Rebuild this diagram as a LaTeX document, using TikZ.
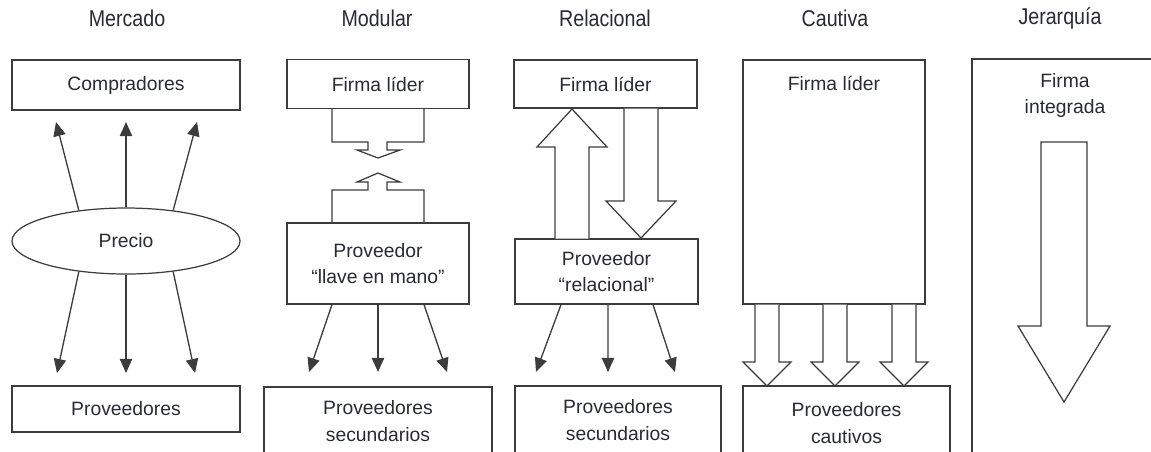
\documentclass[tikz,border=0pt]{standalone}
\usepackage{fontspec}
\setmainfont{Liberation Sans}
\newfontfamily\titlefont{Liberation Sans}[FakeStretch=0.86]
\usepackage{xcolor}
\usetikzlibrary{arrows.meta,shapes.geometric,calc}
\definecolor{LineGray}{RGB}{60,60,60}
\definecolor{TextGray}{RGB}{40,42,52}

\tikzset{
  caja/.style 2 args={draw=LineGray, line width=0.7pt, inner sep=0pt, align=center,
    minimum width=#1*0.02cm, minimum height=#2*0.02cm},
  flecha/.style={draw=LineGray, line width=0.75pt, -{Triangle[length=8pt,width=7pt]}},
  bloque/.style={draw=LineGray, line width=0.7pt, fill=white, line join=miter},
  titulo/.style={font=\titlefont\fontsize{13}{15}\selectfont}
}

\begin{document}
\begin{tikzpicture}[x=0.02cm, y=-0.02cm, font=\fontsize{11}{15}\selectfont, text=TextGray]
  \useasboundingbox (0,0) rectangle (1151,451);
  \clip (0,0) rectangle (1151,451);

  % Titulos
  \foreach \x/\t/\n in {127/Mercado/tmer, 377/Modular/tmod, 605/Relacional/trel, 835/Cautiva/tcau, 1060/Jerarquía/tjer}
    \node[titulo] (\n) at (\x,18) {\t};

  % Mercado
  \node[caja={228}{50}] (comp) at (126,85) {Compradores};
  \node[draw=LineGray, line width=0.7pt, ellipse, inner sep=0pt,
        minimum width=228*0.02cm, minimum height=66*0.02cm] (precio) at (126,241) {Precio};
  \node[caja={228}{46}] (prov) at (126,409) {Proveedores};
  \coordinate (up1) at (56,122);
  \coordinate (up2) at (126,122);
  \coordinate (up3) at (197,122);
  \coordinate (dn1) at (57,373);
  \coordinate (dn2) at (126,373);
  \coordinate (dn3) at (195,373);
  \draw[flecha] (precio.147) -- (up1);
  \draw[flecha] (precio.north) -- (up2);
  \draw[flecha] (precio.33) -- (up3);
  \draw[flecha] (precio.213) -- (dn1);
  \draw[flecha] (precio.south) -- (dn2);
  \draw[flecha] (precio.-33) -- (dn3);

  % Modular
  \node[caja={182}{49}] (lider2) at (378,84) {Firma líder};
  \draw[bloque] (332,109) -- (332,142) -- (368,142) -- (368,150) -- (357,150) -- (378,158)
    -- (400,150) -- (387,150) -- (387,142) -- (424,142) -- (424,109);
  \draw[bloque] (332,223) -- (332,190) -- (368,190) -- (368,182) -- (357,182) -- (378,173)
    -- (400,182) -- (387,182) -- (387,190) -- (424,190) -- (424,223);
  \node[caja={182}{81}] (llave) at (378,263.5) {Proveedor\\“llave en mano”};
  \node[caja={228}{68}] (sec2) at (378,421) {Proveedores\\secundarios};
  \coordinate (m1) at (309,372);
  \coordinate (m2) at (378,372);
  \coordinate (m3) at (447,372);
  \draw[flecha] ($(llave.south)+(-46,0)$) -- (m1);
  \draw[flecha] (llave.south) -- (m2);
  \draw[flecha] ($(llave.south)+(46,0)$) -- (m3);

  % Relacional
  \node[caja={183}{48}] (lider3) at (605.5,84) {Firma líder};
  \node[caja={183}{65}] (rel) at (606.5,271.5) {Proveedor\\“relacional”};
  \draw[bloque] (555,238.5) -- (555,147) -- (537,147) -- (572,109) -- (607,147)
    -- (589,147) -- (589,238.5);
  \draw[bloque] (624,108.5) -- (624,201) -- (606,201) -- (641,238) -- (676,201)
    -- (658,201) -- (658,108.5);
  \node[caja={206}{68}] (sec3) at (618,420) {Proveedores\\secundarios};
  \coordinate (r1) at (536,372);
  \coordinate (r2) at (608,372);
  \coordinate (r3) at (675,372);
  \draw[flecha] ($(rel.south)+(-45.5,0)$) -- (r1);
  \draw[flecha] ($(rel.south)+(1.5,0)$) -- (r2);
  \draw[flecha] ($(rel.south)+(46.5,0)$) -- (r3);

  % Cautiva
  \node[caja={182}{244}] (lider4) at (834,182) {};
  \node (firma4) at (834,83) {Firma líder};
  \foreach \cx in {767,835,904}
    \draw[bloque] (\cx-12,304.5) -- (\cx-12,362) -- (\cx-24,362) -- (\cx,386)
      -- (\cx+24,362) -- (\cx+12,362) -- (\cx+12,304.5);
  \node[caja={207}{74}] (caut) at (846.5,423) {Proveedores\\cautivos};

  % Jerarquia
  \node[caja={188}{401}] (jer) at (1066,259.5) {};
  \node[align=center] (firma5) at (1065,95.5) {Firma\\integrada};
  \draw[bloque] (1041,142) -- (1041,326) -- (1018,326) -- (1064,402) -- (1110,326)
    -- (1087,326) -- (1087,142) -- cycle;
\end{tikzpicture}
\end{document}
